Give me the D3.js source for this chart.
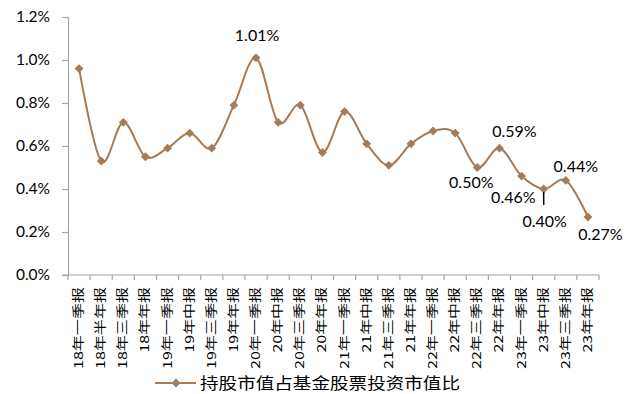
<!DOCTYPE html>
<html>
<head>
<meta charset="utf-8">
<script src="https://cdn.jsdelivr.net/npm/d3@7"></script>
<style>
  body { margin: 0; background: #fff; }
  svg { display: block; }
  text { fill: #000; }
</style>
</head>
<body>
<svg width="639" height="394"></svg>
<script>
const categories = ["18年一季报", "18年半年报", "18年三季报", "18年年报",
    "19年一季报", "19年中报", "19年三季报", "19年年报",
    "20年一季报", "20年中报", "20年三季报", "20年年报",
    "21年一季报", "21年中报", "21年三季报", "21年年报",
    "22年一季报", "22年中报", "22年三季报", "22年年报",
    "23年一季报", "23年中报", "23年三季报", "23年年报"];

const ratio = [0.96, 0.53, 0.71, 0.55, 0.59, 0.66, 0.59, 0.79,
    1.01, 0.71, 0.79, 0.57, 0.76, 0.61, 0.51, 0.61,
    0.67, 0.66, 0.50, 0.59, 0.46, 0.40, 0.44, 0.27];

const yTicks = [0, 0.2, 0.4, 0.6, 0.8, 1.0, 1.2];
const seriesName = "持股市值占基金股票投资市值比";

// indices of the labelled points
const labelled = [8, 18, 19, 20, 21, 22, 23];

// label placement relative to its point (layout only)
const labelOffset = {
    8: {dx: 1, dy: -17, anchor: "middle"},
    18: {dx: -6, dy: 20, anchor: "middle"},
    19: {dx: 15, dy: -11.5, anchor: "middle"},
    20: {dx: 14, dy: 27, anchor: "end"},
    21: {dx: 1, dy: 37.5, anchor: "middle"},
    22: {dx: 10, dy: -8.5, anchor: "middle"},
    23: {dx: 12.5, dy: 23, anchor: "middle"}
};

const color = "#a67b57";
const axisColor = "#a6a6a6";

const svg = d3.select("svg");
const mLeft = 68, mRight = 599, mTop = 17, mBottom = 275;

const x = d3.scaleBand().domain(categories).range([mLeft, mRight]);
const y = d3.scaleLinear().domain([0, 1.2]).range([mBottom, mTop]);
const cx = c => x(c) + x.bandwidth() / 2;

// y axis
const yAxis = svg.append("g")
    .attr("transform", `translate(${mLeft},0)`)
    .call(d3.axisLeft(y).tickValues(yTicks).tickSize(6).tickPadding(12)
        .tickFormat(d => d.toFixed(1) + "%"));
yAxis.select(".domain").attr("stroke", axisColor).attr("stroke-width", 1.2);
yAxis.selectAll(".tick line").attr("stroke", axisColor).attr("stroke-width", 1.2);
yAxis.selectAll(".tick text")
    .style("font-family", "Lato, 'Open Sans', sans-serif")
    .style("font-size", "15.5px")
    .attr("fill", "#000");

// x axis: ticks on band edges
const xg = svg.append("g").attr("transform", `translate(0,${mBottom})`);
xg.append("line")
    .attr("x1", mLeft - 6).attr("x2", mRight)
    .attr("stroke", axisColor).attr("stroke-width", 1.2);
xg.selectAll("line.tk")
    .data(categories.map(c => x(c)).concat([mRight]))
    .enter().append("line")
    .attr("class", "tk")
    .attr("x1", d => d).attr("x2", d => d)
    .attr("y1", 0).attr("y2", 5)
    .attr("stroke", axisColor).attr("stroke-width", 1.2);

const lenOf = s => {
    let n = 0;
    for (const ch of s) n += /[0-9]/.test(ch) ? 8 : 16.5;
    return n;
};
xg.selectAll("text.lab")
    .data(categories)
    .enter().append("text")
    .attr("class", "lab")
    .attr("transform", d => `translate(${cx(d) + 4},12) rotate(-90)`)
    .attr("text-anchor", "end")
    .attr("textLength", d => lenOf(d))
    .attr("lengthAdjust", "spacingAndGlyphs")
    .style("font-family", "'Noto Sans CJK SC', sans-serif")
    .style("font-size", "12px")
    .text(d => d);

// smoothed line
const line = d3.line()
    .x((d, i) => cx(categories[i]))
    .y(d => y(d))
    .curve(d3.curveCardinal.tension(0));

svg.append("path")
    .datum(ratio)
    .attr("d", line)
    .attr("fill", "none")
    .attr("stroke", color)
    .attr("stroke-width", 2);

svg.append("g")
    .selectAll("path")
    .data(ratio).enter()
    .append("path")
    .attr("transform", (d, i) => `translate(${cx(categories[i])},${y(d)})`)
    .attr("d", d3.symbol().type(d3.symbolDiamond2).size(50))
    .attr("fill", color);

// data labels
svg.append("g")
    .style("font-family", "Lato, 'Open Sans', sans-serif")
    .style("font-size", "16px")
    .selectAll("text")
    .data(labelled).enter()
    .append("text")
    .attr("x", i => cx(categories[i]) + labelOffset[i].dx)
    .attr("y", i => y(ratio[i]) + labelOffset[i].dy)
    .attr("text-anchor", i => labelOffset[i].anchor)
    .text(i => ratio[i].toFixed(2) + "%");

// leader line for 23年中报
const li = 21;
svg.append("line")
    .attr("x1", cx(categories[li])).attr("x2", cx(categories[li]))
    .attr("y1", y(ratio[li]) + 3).attr("y2", y(ratio[li]) + 16)
    .attr("stroke", "#000").attr("stroke-width", 1.5);

// legend
const lg = svg.append("g").attr("transform", "translate(155,383)");
lg.append("line")
    .attr("x1", 0).attr("x2", 41)
    .attr("stroke", color).attr("stroke-width", 2);
lg.append("path")
    .attr("transform", "translate(21,0)")
    .attr("d", d3.symbol().type(d3.symbolDiamond2).size(50))
    .attr("fill", color);
lg.append("text")
    .attr("x", 45).attr("y", 6)
    .attr("textLength", 260)
    .attr("lengthAdjust", "spacingAndGlyphs")
    .style("font-family", "'Noto Sans CJK SC', sans-serif")
    .style("font-size", "16px")
    .text(seriesName);
</script>
</body>
</html>
